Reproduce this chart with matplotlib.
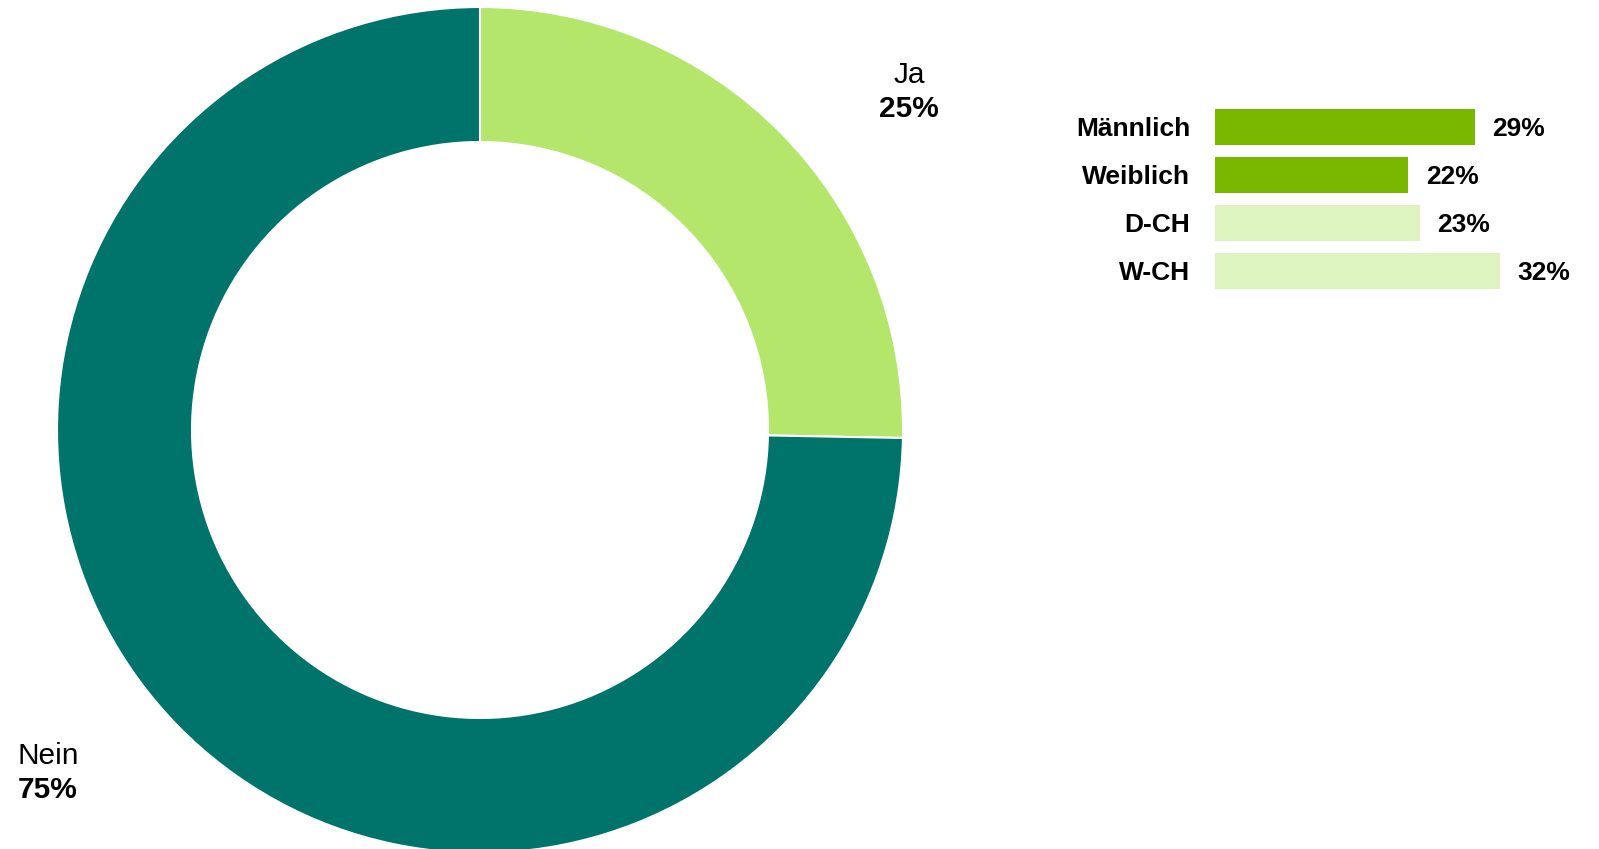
import numpy as np
import matplotlib.pyplot as plt

plt.rcParams['font.family'] = ['Liberation Sans', 'DejaVu Sans']

# donut data
donut_labels = ["Ja", "Nein"]
donut_values = [25.3, 74.7]
donut_colors = ["#B3E66A", "#00736A"]

# bar data
bar_labels = ["Männlich", "Weiblich", "D-CH", "W-CH"]
bar_values = [29.2, 21.7, 23.0, 32.0]
bar_colors = ["#7AB800", "#7AB800", "#DDF4C0", "#DDF4C0"]

W, H = 1599, 849
fig = plt.figure(figsize=(W / 100, H / 100), dpi=100)

# donut, drawn in pixel coordinates (y up)
ax = fig.add_axes([0, 0, 1, 1])
ax.pie(donut_values, colors=donut_colors, startangle=90, counterclock=False,
       center=(480, H - 430), radius=423,
       wedgeprops=dict(width=135, edgecolor="white", linewidth=1.5))
ax.set_xlim(0, W)
ax.set_ylim(0, H)
ax.set_aspect("equal")
ax.axis("off")

ax.text(909, H - 83, donut_labels[0], ha="center", va="baseline", fontsize=21.5)
ax.text(909, H - 117, f"{round(donut_values[0])}%", ha="center", va="baseline",
        fontsize=21.5, fontweight="bold")
ax.text(18, H - 764, donut_labels[1], ha="left", va="baseline", fontsize=21.5)
ax.text(18, H - 798, f"{round(donut_values[1])}%", ha="left", va="baseline",
        fontsize=21.5, fontweight="bold")

# bars on the right
px_per_pct = 8.9
left, top, bot = 1215, 103, 295
right = left + px_per_pct * 40
bx = fig.add_axes([left / W, (H - bot) / H, (right - left) / W, (bot - top) / H])
y = np.arange(len(bar_labels))
bx.barh(y, bar_values, height=0.75, color=bar_colors)
bx.set_xlim(0, 40)
bx.set_ylim(len(bar_labels) - 0.5, -0.5)
bx.set_yticks(y)
bx.set_yticklabels(bar_labels, fontsize=19, fontweight="bold")
bx.tick_params(axis="y", length=0, pad=18)
bx.set_xticks([])
for s in bx.spines.values():
    s.set_visible(False)
for yi, v in zip(y, bar_values):
    bx.text(v + 17.5 / px_per_pct, yi, f"{round(v)}%", ha="left", va="center_baseline",
            fontsize=19, fontweight="bold")
bx.patch.set_alpha(0)

fig.savefig("out.png", dpi=100)
